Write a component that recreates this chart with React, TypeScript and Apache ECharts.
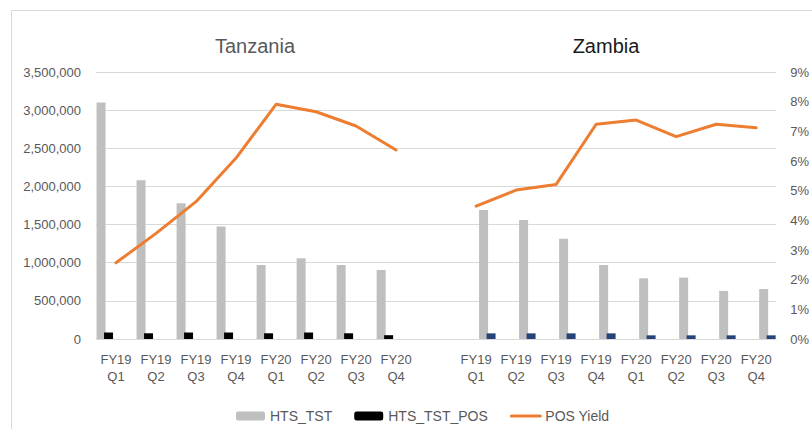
import React, { useEffect, useRef } from "react";
import * as echarts from "echarts";

const quarters = ["FY19\nQ1", "FY19\nQ2", "FY19\nQ3", "FY19\nQ4", "FY20\nQ1", "FY20\nQ2", "FY20\nQ3", "FY20\nQ4"];
const tzHts = [3100000, 2080000, 1780000, 1475000, 970000, 1058000, 970000, 905000];
const tzPos = [85000, 75000, 85000, 85000, 75000, 85000, 75000, 50000];
const tzYield = [2.57, 3.56, 4.63, 6.1, 7.91, 7.66, 7.18, 6.37];
const zmHts = [1690000, 1560000, 1315000, 970000, 795000, 805000, 630000, 655000];
const zmPos = [74000, 74000, 74000, 74000, 48000, 48000, 48000, 48000];
const zmYield = [4.48, 5.02, 5.21, 7.24, 7.38, 6.82, 7.24, 7.12];
const leftTicks = { min: 0, max: 3500000, interval: 500000 };
const rightTicks = { min: 0, max: 9, interval: 1 };

const FONT = "Liberation Sans";

export default function App() {
  const ref = useRef<HTMLDivElement>(null);
  useEffect(() => {
    if (!ref.current) return;
    const chart = echarts.init(ref.current, undefined, { renderer: "svg" });
    const empty8 = quarters.map(() => null);
    const categories = [...quarters, "", ...quarters];
    const tzOnly = (a: (number | null)[]) => [...a, null, ...empty8];
    const zmOnly = (a: (number | null)[]) => [...empty8, null, ...a];
    const barCommon = {
      type: "bar" as const,
      barWidth: 9,
      barGap: "-17%",
      emphasis: { disabled: true },
    };
    chart.setOption({
      animation: false,
      textStyle: { fontFamily: FONT },
      grid: { left: 96, right: 31, top: 72, bottom: 90, containLabel: false },
      graphic: [
        {
          type: "rect",
          shape: { x: 11.5, y: 10.5, width: 820, height: 440 },
          style: { fill: "none", stroke: "#d9d9d9", lineWidth: 1 },
          silent: true,
        },
        {
          type: "text",
          x: 255,
          y: 46,
          style: { text: "Tanzania", fontSize: 20, fill: "#595959", fontFamily: FONT, textAlign: "center", textVerticalAlign: "middle" },
        },
        {
          type: "text",
          x: 606,
          y: 46,
          style: { text: "Zambia", fontSize: 20, fill: "#1a1a1a", fontFamily: FONT, textAlign: "center", textVerticalAlign: "middle" },
        },
      ],
      legend: {
        data: [
          "HTS_TST",
          "HTS_TST_POS",
          { name: "POS Yield", itemStyle: { opacity: 0 }, lineStyle: { width: 3, color: "#ed7d31" } },
        ],
        left: 231,
        top: 404,
        itemWidth: 29,
        itemHeight: 9,
        itemGap: 22,
        textStyle: { fontSize: 14, color: "#595959", fontFamily: FONT },
      },
      xAxis: {
        type: "category",
        data: categories,
        axisTick: { show: false },
        axisLine: { lineStyle: { color: "#d9d9d9" } },
        axisLabel: { color: "#595959", fontSize: 13, lineHeight: 17, margin: 12, interval: 0, fontFamily: FONT },
      },
      yAxis: [
        {
          type: "value",
          ...leftTicks,
          axisLine: { show: false },
          axisTick: { show: false },
          splitLine: { lineStyle: { color: "#d9d9d9" } },
          axisLabel: {
            color: "#595959",
            fontSize: 13,
            margin: 15,
            fontFamily: FONT,
            formatter: (v: number) => v.toLocaleString("en-US"),
          },
        },
        {
          type: "value",
          ...rightTicks,
          position: "right",
          axisLine: { show: false },
          axisTick: { show: false },
          splitLine: { show: false },
          axisLabel: { color: "#595959", fontSize: 13, margin: 14, fontFamily: FONT, formatter: "{value}%" },
        },
      ],
      series: [
        { ...barCommon, name: "HTS_TST", data: tzOnly(tzHts), itemStyle: { color: "#bfbfbf" } },
        { ...barCommon, name: "HTS_TST_POS", data: tzOnly(tzPos), itemStyle: { color: "#000000" } },
        { ...barCommon, name: "spacer", data: categories.map(() => null), itemStyle: { color: "transparent" } },
        { ...barCommon, name: "HTS_TST (Zambia)", data: zmOnly(zmHts), itemStyle: { color: "#bfbfbf" } },
        { ...barCommon, name: "HTS_TST_POS (Zambia)", data: zmOnly(zmPos), itemStyle: { color: "#264478" } },
        {
          type: "line",
          name: "POS Yield",
          yAxisIndex: 1,
          data: [...tzYield, null, ...zmYield],
          symbol: "none",
          connectNulls: false,
          lineStyle: { color: "#ed7d31", width: 3, join: "round", cap: "round" },
          itemStyle: { color: "#ed7d31" },
          emphasis: { disabled: true },
          z: 5,
        },
      ],
    });
    return () => chart.dispose();
  }, []);
  return <div ref={ref} style={{ position: "absolute", left: 0, top: 0, width: 812, height: 429 }} />;
}
